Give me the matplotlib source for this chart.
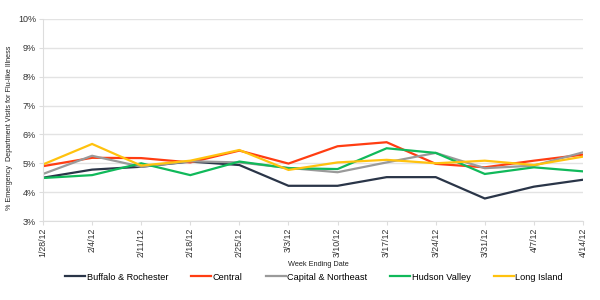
import matplotlib
matplotlib.use("Agg")
import matplotlib.pyplot as plt

dates = ["1/28/12", "2/4/12", "2/11/12", "2/18/12", "2/25/12", "3/3/12",
         "3/10/12", "3/17/12", "3/24/12", "3/31/12", "4/7/12", "4/14/12"]
buffalo = [4.50, 4.78, 4.88, 5.06, 4.94, 4.22, 4.22, 4.52, 4.52, 3.78, 4.19, 4.43]
central = [4.90, 5.19, 5.18, 5.03, 5.44, 4.99, 5.59, 5.73, 4.98, 4.86, 5.09, 5.30]
capital = [4.63, 5.26, 4.88, 5.07, 5.03, 4.84, 4.69, 5.03, 5.36, 4.83, 4.92, 5.38]
hudson = [4.49, 4.59, 5.00, 4.59, 5.06, 4.83, 4.80, 5.52, 5.36, 4.63, 4.86, 4.72]
longisland = [4.96, 5.67, 4.92, 5.09, 5.46, 4.77, 5.03, 5.12, 5.00, 5.09, 4.94, 5.23]

series = [
    ("Buffalo & Rochester", buffalo, "#2a3548"),
    ("Central", central, "#ff3d12"),
    ("Capital & Northeast", capital, "#9a9a9a"),
    ("Hudson Valley", hudson, "#10b95a"),
    ("Long Island", longisland, "#ffc20e"),
]

plt.rcParams['font.family'] = ['Liberation Sans', 'DejaVu Sans']
fig = plt.figure(figsize=(6, 3), dpi=100)
ax = fig.add_axes([43/600, 1-221/300, 540/600, 202/300])

x = list(range(len(dates)))
for name, vals, col in series:
    ax.plot(x, vals, color=col, lw=1.6, label=name, solid_joinstyle='miter')

ax.set_xlim(0, len(dates)-1)
ax.set_ylim(3, 10)
ax.set_yticks(range(3, 11))
ax.set_yticklabels([f"{v}%" for v in range(3, 11)], fontsize=6.5, color="#333333")
ax.set_xticks(x)
ax.set_xticklabels(dates, rotation=90, fontsize=6.3, color="#333333")
ax.grid(axis='y', color="#e3e3e3", lw=1.0)
ax.set_axisbelow(True)
for s in ["top", "right"]:
    ax.spines[s].set_visible(False)
ax.spines["left"].set_color("#dddddd")
ax.spines["bottom"].set_color("#dddddd")
ax.tick_params(axis='both', color="#dddddd", length=3, pad=2)

ax.set_xlabel("Week Ending Date", fontsize=5.3, color="#222222")
ax.xaxis.set_label_coords((318-43)/540, (221-264)/202)
ax.xaxis.label.set_va("center")
ax.set_ylabel("% Emergency  Department Visits for Flu-like Illness", fontsize=5.2,
              color="#222222")
ax.yaxis.set_label_coords((10-43)/540, (221-128)/202)
ax.yaxis.label.set_va("center")

fig.legend(loc="center", bbox_to_anchor=(314/600, 1-277/300), ncol=5, frameon=False,
           fontsize=6.6, handlelength=2.2, handletextpad=0.15, columnspacing=2.5)

fig.savefig("out.png", dpi=100)
